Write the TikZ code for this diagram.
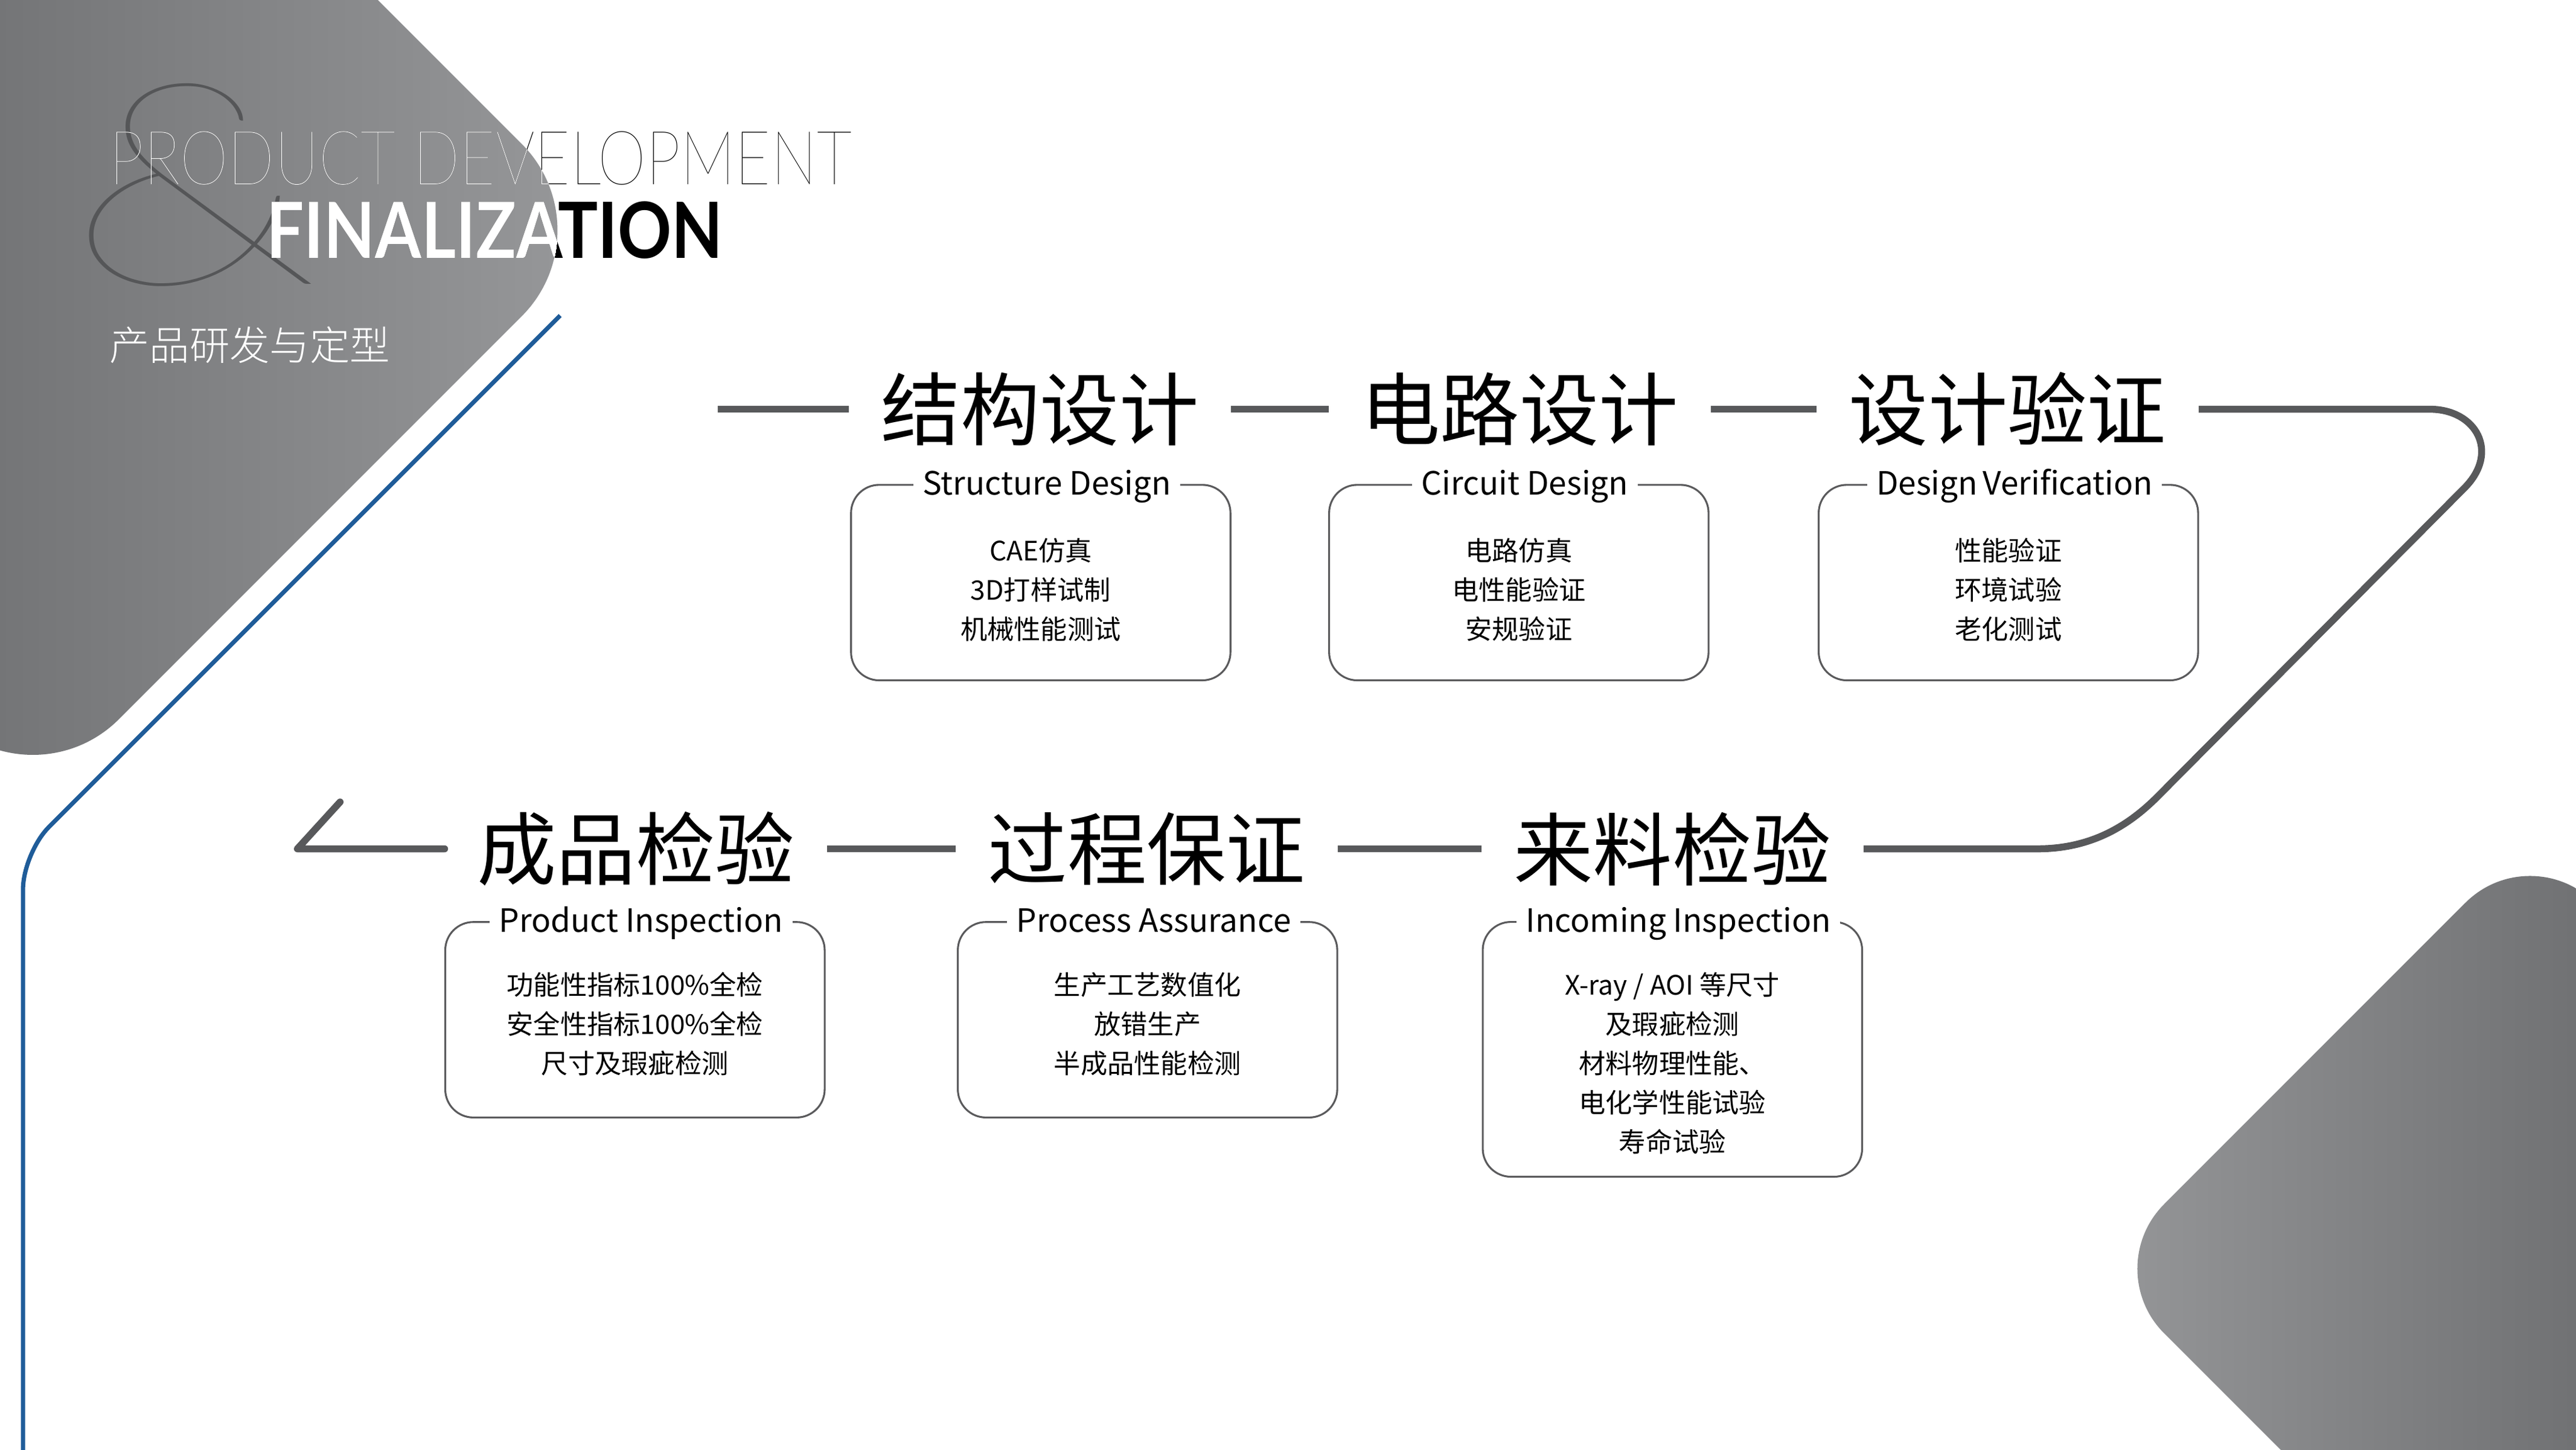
\documentclass[tikz,border=0pt]{standalone}
\usepackage{fontspec}
\usepackage{graphicx}
\setmainfont{Noto Sans CJK SC}
\newfontfamily\cjk{Noto Sans CJK SC}
\IfFontExistsTF{Noto Sans CJK SC Light}{\newfontfamily\cjklight{Noto Sans CJK SC Light}}{\newfontfamily\cjklight{Noto Sans CJK SC}}
\IfFontExistsTF{Lato Hairline}{\newfontfamily\hairfont{Lato Hairline}}{\IfFontExistsTF{Lato Light}{\newfontfamily\hairfont{Lato Light}}{\newfontfamily\hairfont{Lato}}}
\IfFontExistsTF{Lato Thin}{\newfontfamily\thinfont{Lato Thin}}{\let\thinfont\hairfont}
\newfontfamily\latofont{Lato}

\definecolor{flowgray}{RGB}{88,89,91}
\definecolor{boxgray}{RGB}{90,90,92}
\definecolor{lineblue}{RGB}{31,92,153}
\definecolor{ampgray}{RGB}{85,86,88}
\definecolor{tldark}{RGB}{62,63,65}
\definecolor{tllight}{RGB}{152,153,155}
\definecolor{brlight}{RGB}{150,151,153}
\definecolor{brdark}{RGB}{70,71,73}

\newcommand\tlpath{(-210,-440) -- (370,140) -- (20,490) -- (-560,-90) -- cycle}

\begin{document}
\begin{tikzpicture}[x=0.0216cm, y=-0.0216cm]
	\tikzset{
		head/.style={font=\cjk\fontsize{29.7pt}{32pt}\selectfont, inner xsep=0.42cm, inner ysep=0pt},
		card/.style={draw=boxgray, line width=0.7pt, rounded corners=0.37cm, minimum width=4.99cm, minimum height=2.57cm},
		cardname/.style={fill=white, font=\cjk\fontsize{12pt}{14pt}\selectfont, inner xsep=3.5pt, inner ysep=1pt, text height=0.75em, text depth=0.22em, xshift=0.08cm, yshift=-0.05cm},
		cardtext/.style={font=\cjk\fontsize{10pt}{14.7pt}\selectfont, align=center, inner sep=0pt},
		flow/.style={draw=flowgray, line width=2.6pt},
		titlethin/.style={font=\thinfont\fontsize{28pt}{28pt}\selectfont, inner sep=0pt},
		titlebold/.style={font=\latofont\bfseries\fontsize{29pt}{29pt}\selectfont, inner sep=0pt}
	}
	\useasboundingbox (0,0) rectangle (1568,882);
	\clip (0,0) rectangle (1568,882);
	\fill[white] (0,0) rectangle (1568,882);

	\shade[left color=tldark, right color=tllight, rounded corners=1.6cm] \tlpath;
	\shade[left color=brlight, right color=brdark, rounded corners=1.2cm] (1540,510) -- (1900,870) -- (1638,1132) -- (1278,772) -- cycle;

	\node[font=\hairfont\fontsize{106pt}{106pt}\selectfont, text=ampgray, inner sep=0pt] (amp) at (117.5,112.5) {\scalebox{1.3}[1]{\&}};
	\node[titlethin] (pd) at (292.5,96.5) {\scalebox{0.82}[1]{PRODUCT DEVELOPMENT}};
	\node[titlebold] (fin) at (301,140) {\scalebox{0.86}[1]{FINALIZATION}};
	\begin{scope}
		\clip[rounded corners=1.6cm] \tlpath;
		\node[titlethin, text=white] (pdw) at (292.5,96.5) {\scalebox{0.82}[1]{PRODUCT DEVELOPMENT}};
		\node[titlebold, text=white] (finw) at (301,140) {\scalebox{0.86}[1]{FINALIZATION}};
	\end{scope}
	\node[font=\cjklight\fontsize{15pt}{15pt}\selectfont, text=white, inner sep=0pt] (sub) at (152,210) {产品研发与定型};

	\draw[lineblue, line width=1.6pt, rounded corners=0.48cm] (341,192) -- (14,519) -- (14,890);

	\node[head] (sd) at (633,249) {结构设计};
	\node[head] (cd) at (925,249) {电路设计};
	\node[head] (dv) at (1222,249) {设计验证};
	\node[head] (ii) at (1018,516.5) {来料检验};
	\node[head] (pa) at (698,516.5) {过程保证};
	\node[head] (pi) at (387,516.5) {成品检验};

	\coordinate (start) at (437,249);
	\coordinate (tip) at (181,516.5);
	\coordinate (barb) at (207,488);

	\draw[flow] (start) -- (sd.west);
	\draw[flow] (sd.east) -- (cd.west);
	\draw[flow] (cd.east) -- (dv.west);
	\draw[flow] (dv.east) -- (1479,249) .. controls (1507,249) and (1522,275) .. (1500,297) -- (1313,485) .. controls (1293,505) and (1270,516.5) .. (1240,516.5) -- (ii.east);
	\draw[flow] (ii.west) -- (pa.east);
	\draw[flow] (pa.west) -- (pi.east);
	\draw[flow, line join=round, line cap=round] (pi.west) -- (tip) -- (barb);

	\node[card] (sdb) at (633.5,354.5) {};
	\node[card] (cdb) at (924.5,354.5) {};
	\node[card] (dvb) at (1222.5,354.5) {};
	\node[card] (pib) at (386.5,620.5) {};
	\node[card] (pab) at (698.5,620.5) {};
	\node[card, minimum height=3.35cm] (iib) at (1018,638.5) {};

	\node[cardname] (sdl) at (sdb.north) {Structure Design};
	\node[cardname] (cdl) at (cdb.north) {Circuit Design};
	\node[cardname] (dvl) at (dvb.north) {Design\,Verification};
	\node[cardname] (pil) at (pib.north) {Product Inspection};
	\node[cardname] (pal) at (pab.north) {Process Assurance};
	\node[cardname] (iil) at (iib.north) {Incoming Inspection};

	\node[cardtext] (sdt) at (633.5,359) {CAE仿真\\3D打样试制\\机械性能测试};
	\node[cardtext] (cdt) at (924.5,359) {电路仿真\\电性能验证\\安规验证};
	\node[cardtext] (dvt) at (1222.5,359) {性能验证\\环境试验\\老化测试};
	\node[cardtext] (pit) at (386.5,623) {功能性指标100\%全检\\安全性指标100\%全检\\尺寸及瑕疵检测};
	\node[cardtext] (pat) at (698.5,623) {生产工艺数值化\\放错生产\\半成品性能检测};
	\node[cardtext] (iit) at (1018,647) {X-ray / AOI 等尺寸\\及瑕疵检测\\材料物理性能、\\电化学性能试验\\寿命试验};

\end{tikzpicture}
\end{document}
